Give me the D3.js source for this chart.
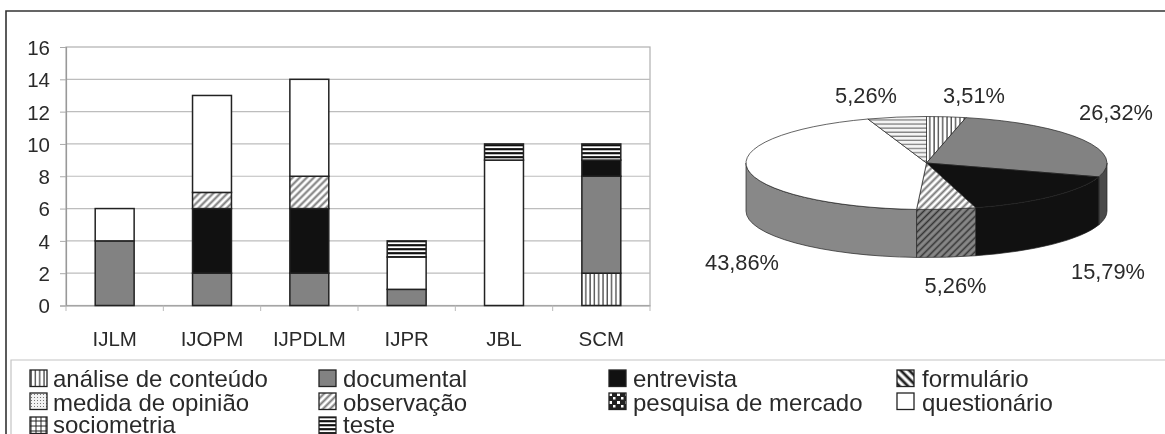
<!DOCTYPE html>
<html><head><meta charset="utf-8">
<script src="https://cdn.jsdelivr.net/npm/d3@7/dist/d3.min.js"></script>
<style>html,body{margin:0;padding:0;background:#fff;overflow:hidden}svg{display:block;filter:blur(0.5px)}text{font-family:"Liberation Sans",Arial,sans-serif;fill:#2a2a2a}</style>
</head><body><svg id="c" width="1165" height="434"></svg>
<script>
const categories=["IJLM","IJOPM","IJPDLM","IJPR","JBL","SCM"];
const analise=[0,0,0,0,0,2];
const documental=[4,2,2,1,0,6];
const entrevista=[0,4,4,0,0,1];
const formulario=[0,0,0,0,0,0];
const medida=[0,0,0,0,0,0];
const observacao=[0,1,2,0,0,0];
const pesquisa=[0,0,0,0,0,0];
const questionario=[2,6,6,2,9,0];
const sociometria=[0,0,0,0,0,0];
const teste=[0,0,0,1,1,1];
const seriesNames=["análise de conteúdo","documental","entrevista","formulário","medida de opinião","observação","pesquisa de mercado","questionário","sociometria","teste"];
const seriesValues=[analise,documental,entrevista,formulario,medida,observacao,pesquisa,questionario,sociometria,teste];
const yTicks=[0,2,4,6,8,10,12,14,16];

const svg=d3.select("#c"),defs=svg.append("defs");
function pat(id,w,h,bg,draw,rot){
  const p=defs.append("pattern").attr("id",id).attr("patternUnits","userSpaceOnUse").attr("width",w).attr("height",h);
  if(rot)p.attr("patternTransform","rotate("+rot+")");
  p.append("rect").attr("width",w).attr("height",h).attr("fill",bg);
  draw(p);
}
const ln=(p,x1,y1,x2,y2,c,sw)=>p.append("line").attr("x1",x1).attr("y1",y1).attr("x2",x2).attr("y2",y2).attr("stroke",c).attr("stroke-width",sw);
const rc=(p,x,y,w,h,c)=>p.append("rect").attr("x",x).attr("y",y).attr("width",w).attr("height",h).attr("fill",c);
pat("pV",4.3,4,"#fff",p=>ln(p,1,0,1,4,"#333",1.2));
pat("pH",4,4,"#fff",p=>ln(p,0,1.2,4,1.2,"#111",2.2));
pat("pHl",4,4.1,"#f4f4f4",p=>ln(p,0,1,4,1,"#777",1.2));
pat("pD",5,5,"#fff",p=>ln(p,2.5,0,2.5,5,"#777",2),45);
pat("pDd",5,5,"#888",p=>ln(p,2.5,0,2.5,5,"#333",1.6),45);
pat("pF",6,6,"#fff",p=>ln(p,3,0,3,6,"#222",2.8),-45);
pat("pM",3,3,"#f2f2f2",p=>rc(p,1,1,1,1,"#777"));
pat("pP",8,8,"#222",p=>{rc(p,1,1,3,3,"#fff");rc(p,5,5,2.5,2.5,"#fff")});
pat("pS",5,5,"#fff",p=>{ln(p,1,0,1,5,"#222",1);ln(p,0,1,5,1,"#222",1)});
const fills=["url(#pV)","#828282","#111","url(#pF)","url(#pM)","url(#pD)","url(#pP)","#fff","url(#pS)","url(#pH)"];

// outer frame
svg.append("path").attr("d","M6,434V11H1165").attr("fill","none").attr("stroke","#333").attr("stroke-width",1.6);

// bar chart
const x=d3.scaleBand().domain(categories).range([66,650]).paddingInner(0.6).paddingOuter(0.3);
const xT=d3.scaleBand().domain(categories).range([66,650]);
const y=d3.scaleLinear().domain([0,16]).range([305.5,47]);
const rows=categories.map((c,i)=>{const o={cat:c};seriesNames.forEach((n,k)=>o[n]=seriesValues[k][i]);return o});
const stacked=d3.stack().keys(seriesNames)(rows);
svg.append("rect").attr("x",66).attr("y",y(16)).attr("width",584).attr("height",y(0)-y(16)).attr("fill","#fff").attr("stroke","#b0b0b0").attr("stroke-width",1.2);
svg.append("g").selectAll("line").data(yTicks.slice(1,-1)).join("line")
  .attr("x1",66).attr("x2",650).attr("y1",d=>y(d)).attr("y2",d=>y(d)).attr("stroke","#bdbdbd").attr("stroke-width",1.2);
const gy=svg.append("g").attr("transform","translate(66,0)").call(d3.axisLeft(y).tickValues(yTicks).tickSize(6).tickPadding(10));
const gx=svg.append("g").attr("transform","translate(0,305.5)").call(d3.axisBottom(xT).tickSize(0).tickPadding(26));
[gy,gx].forEach(g=>{g.select(".domain").attr("stroke","#999").attr("stroke-width",1.2);g.selectAll("line").attr("stroke","#aaa");g.selectAll("text").attr("font-size",20.5).attr("font-family",null).style("fill","#2a2a2a")});
gy.selectAll("text").attr("dy","0.36em");
svg.append("g").selectAll("line").data(d3.range(7)).join("line")
  .attr("x1",d=>66+d*xT.step()).attr("x2",d=>66+d*xT.step()).attr("y1",305.5).attr("y2",311).attr("stroke","#bbb");
stacked.forEach((s,k)=>{
  svg.append("g").selectAll("rect").data(s.filter(d=>d[1]>d[0])).join("rect")
    .attr("x",d=>x(d.data.cat)).attr("width",x.bandwidth())
    .attr("y",d=>y(d[1])).attr("height",d=>y(d[0])-y(d[1]))
    .attr("fill",fills[k]).attr("stroke","#222").attr("stroke-width",1.5);
});

// 3D pie
const totals=seriesValues.map(v=>d3.sum(v));
const grand=d3.sum(totals);
const pieItems=seriesNames.map((n,i)=>({name:n,value:totals[i]})).filter(d=>d.value>0);
const arcs=d3.pie().sort(null).value(d=>d.value)(pieItems);
const cx=926.5,cy=163,rx=180.5,ry=46.5,depth=48;
const px=a=>cx+rx*Math.sin(a),py=a=>cy-ry*Math.cos(a);
const topFill={"análise de conteúdo":"url(#pV)","documental":"#828282","entrevista":"#111","observação":"url(#pD)","questionário":"#fff","teste":"url(#pHl)"};
const sideFill={"documental":"#4a4a4a","entrevista":"#111","observação":"url(#pDd)","questionário":"#888"};
const fmt=v=>(v/grand*100).toFixed(2).replace(".",",")+"%";
const H=Math.PI/2,T=3*Math.PI/2;
const sg=svg.append("g");
arcs.forEach(d=>{
  const a=Math.max(d.startAngle,H),b=Math.min(d.endAngle,T);
  if(b<=a)return;
  sg.append("path").attr("d",`M${px(a)},${py(a)}A${rx},${ry} 0 0 1 ${px(b)},${py(b)}V${py(b)+depth}A${rx},${ry} 0 0 0 ${px(a)},${py(a)+depth}Z`)
    .attr("fill",sideFill[d.data.name]).attr("stroke","#222").attr("stroke-width",0.7);
});
arcs.forEach(d=>{
  const a=d.startAngle,b=d.endAngle,large=b-a>Math.PI?1:0;
  sg.append("path").attr("d",`M${cx},${cy}L${px(a)},${py(a)}A${rx},${ry} 0 ${large} 1 ${px(b)},${py(b)}Z`)
    .attr("fill",topFill[d.data.name]).attr("stroke","#222").attr("stroke-width",0.7);
});
const labelAt=[[974,103],[1116,120],[1108,279],[955.5,293],[742,270],[866,103]];
svg.append("g").selectAll("text").data(arcs).join("text")
  .attr("x",(d,i)=>labelAt[i][0]).attr("y",(d,i)=>labelAt[i][1]).attr("text-anchor","middle")
  .attr("font-size",21.8).text(d=>fmt(d.value));

// legend
svg.append("path").attr("d","M1165,360H11V434").attr("fill","none").attr("stroke","#c4c4c4").attr("stroke-width",1.2);
const swX=[30,319,609,897],txX=[53,343,633,922],rowY=[387,410.5,433],swY=[370,393,417];
const lg=svg.append("g").selectAll("g").data(seriesNames).join("g");
const rowOf=i=>i<8?Math.floor(i/4):2, colOf=i=>i<8?i%4:i-8;
lg.append("rect").attr("x",(d,i)=>swX[colOf(i)]).attr("y",(d,i)=>swY[rowOf(i)]).attr("width",17).attr("height",16.5)
  .attr("fill",(d,i)=>fills[i]).attr("stroke","#222").attr("stroke-width",1.3);
lg.append("text").attr("x",(d,i)=>txX[colOf(i)]).attr("y",(d,i)=>rowY[rowOf(i)])
  .attr("font-size",24).text(d=>d);
</script></body></html>
